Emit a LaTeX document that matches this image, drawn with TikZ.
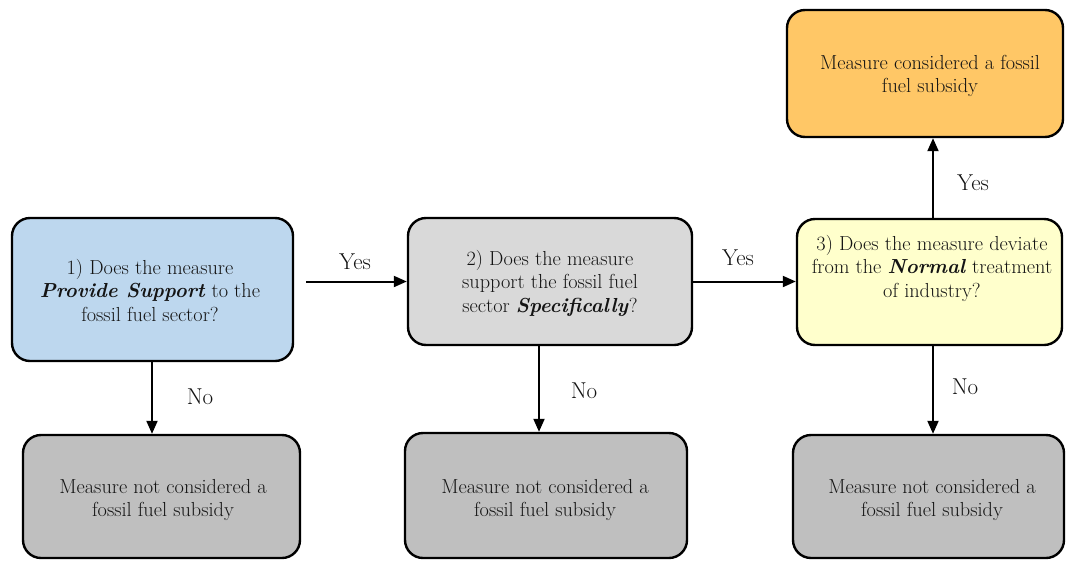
\documentclass[tikz,border=0pt]{standalone}
\usepackage{fontspec}
\usetikzlibrary{arrows.meta,calc}
\definecolor{cblue}{HTML}{BDD7EE}
\definecolor{cgrayl}{HTML}{D9D9D9}
\definecolor{cyel}{HTML}{FFFFCC}
\definecolor{corange}{HTML}{FFC766}
\definecolor{cgray}{HTML}{BFBFBF}
\tikzset{
  boxshape/.style={draw=black, line width=2.4pt, rounded corners=18pt, inner sep=0pt},
  txt/.style={align=center, font=\rmfamily\fontsize{20.3}{23.5}\selectfont, text=black!92},
  lbl/.style={font=\rmfamily\fontsize{23}{26}\selectfont, text=black!92},
  arr/.style={line width=2pt, -{Triangle[length=13pt,width=11pt]}},
}
\newcommand{\mkbox}[6]{% name, fill, x1,y1,x2,y2
  \node[boxshape, fill=#2, minimum width={(#5-#3)*1pt}, minimum height={(#6-#4)*1pt}] (#1) at ({(#3+#5)/2},{(#4+#6)/2}) {};}
\begin{document}
\begin{tikzpicture}[x=1pt,y=-1pt]
\useasboundingbox (0,0) rectangle (1068,560);
\fill[white] (0,0) rectangle (1068,560);

\mkbox{q1}{cblue}{12}{218}{293}{361}
\mkbox{q2}{cgrayl}{408}{218}{692}{345}
\mkbox{q3}{cyel}{797}{219}{1062}{345}
\mkbox{yes}{corange}{787}{10}{1063}{137}
\mkbox{no1}{cgray}{23}{435}{300}{558}
\mkbox{no2}{cgray}{405}{433}{687}{558}
\mkbox{no3}{cgray}{793}{435}{1064}{558}

\node[txt] (q1t) at (150,290) {1) Does the measure\\\textbf{\textit{Provide Support}} to the\\fossil fuel sector?};
\node[txt] (q2t) at (550,283) {2) Does the measure\\support the fossil fuel\\sector \textbf{\textit{Specifically}}?};
\node[txt] (q3t) at (932,268) {3) Does the measure deviate\\from the \textbf{\textit{Normal}} treatment\\of industry?};
\node[txt] (yest) at (930,76) {Measure considered a fossil\\fuel subsidy};
\node[txt] (no1t) at (163,500) {Measure not considered a\\fossil fuel subsidy};
\node[txt] (no2t) at (545,500) {Measure not considered a\\fossil fuel subsidy};
\node[txt] (no3t) at (932,500) {Measure not considered a\\fossil fuel subsidy};

\coordinate (c1) at (152,0);
\coordinate (c2) at (539,0);
\coordinate (c3) at (933,0);

\draw[arr, shorten <=12pt] (q1.east |- q2.west) -- (q2.west);
\draw[arr] (q2.east) -- (q3.west |- q2.east);
\draw[arr] (q3.north -| c3) -- (yes.south -| c3);
\draw[arr] (q1.south -| c1) -- (no1.north -| c1);
\draw[arr] (q2.south -| c2) -- (no2.north -| c2);
\draw[arr] (q3.south -| c3) -- (no3.north -| c3);

\node[lbl] (l1) at (355,262) {Yes};
\node[lbl] (l2) at (738,258) {Yes};
\node[lbl] (l3) at (973,183) {Yes};
\node[lbl] (l4) at (200,397) {No};
\node[lbl] (l5) at (584,391) {No};
\node[lbl] (l6) at (965,387) {No};
\end{tikzpicture}
\end{document}
